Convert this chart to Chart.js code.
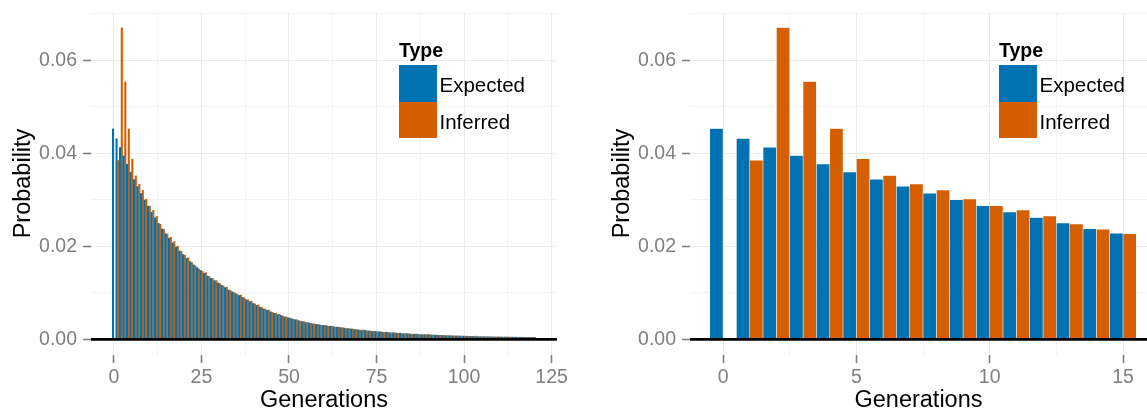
<!DOCTYPE html>
<html>
<head>
<meta charset="utf-8">
<script src="https://cdn.jsdelivr.net/npm/chart.js@4.4.1/dist/chart.umd.min.js"></script>
<style>
    body { margin: 0; background: #fff; }
    #wrap { position: relative; width: 1147px; height: 412px; overflow: hidden; font-family: "Liberation Sans", Arial, sans-serif; }
    canvas { position: absolute; top: 0; }
    .ltitle { position: absolute; font-weight: bold; font-size: 19.5px; line-height: 20px; color: #000; }
    .lbox { position: absolute; width: 38px; height: 36.5px; }
    .llabel { position: absolute; font-size: 20.5px; line-height: 20px; color: #000; }
</style>
</head>
<body>
<div id="wrap">
    <canvas id="left" width="573" height="412" style="left:0"></canvas>
    <canvas id="right" width="573" height="412" style="left:574px"></canvas>
</div>
<script>
// generations 0..120 (histogram bins)
const generations = Array.from({ length: 121 }, (_, i) => i);

const expected = [
    0.0453, 0.0432, 0.0413, 0.0395, 0.0377, 0.0360, 0.0344, 0.0329, 0.0314, 0.0300,
    0.0287, 0.0274, 0.0262, 0.0250, 0.0238, 0.0228, 0.0218, 0.0208, 0.0199, 0.0191,
    0.0183, 0.0175, 0.0168, 0.0161, 0.0155, 0.0149, 0.0143, 0.0137, 0.0132, 0.0127,
    0.0122, 0.0117, 0.0112, 0.0107, 0.0103, 0.0099, 0.0095, 0.0091, 0.0086, 0.0082,
    0.0078, 0.0074, 0.0070, 0.0066, 0.0063, 0.0060, 0.0057, 0.0054, 0.0052, 0.0049,
    0.0047, 0.0045, 0.0043, 0.0041, 0.0039, 0.0037, 0.0036, 0.0034, 0.0033, 0.0032,
    0.0031, 0.0030, 0.0029, 0.0028, 0.0027, 0.0026, 0.0025, 0.0024, 0.0023, 0.0022,
    0.0021, 0.0020, 0.0020, 0.0019, 0.0018, 0.0018, 0.0017, 0.0016, 0.0016, 0.0015,
    0.0015, 0.0014, 0.0014, 0.0013, 0.0013, 0.0012, 0.0012, 0.0012, 0.0011, 0.0011,
    0.0011, 0.0010, 0.0010, 0.00095, 0.00093, 0.00090, 0.00088, 0.00085, 0.00082, 0.00080,
    0.00078, 0.00075, 0.00072, 0.00070, 0.00068, 0.00066, 0.00065, 0.00064, 0.00062, 0.00061,
    0.00060, 0.00059, 0.00058, 0.00057, 0.00056, 0.00055, 0.00054, 0.00053, 0.00052, 0.00051,
    0.00050
];

const inferred = [
    0.0003, 0.0385, 0.0670, 0.0554, 0.0453, 0.0388, 0.0352, 0.0334, 0.0321, 0.0302,
    0.0287, 0.0278, 0.0265, 0.0248, 0.0237, 0.0227, 0.0220, 0.0211, 0.0201, 0.0190,
    0.0182, 0.0176, 0.0166, 0.0159, 0.0152, 0.0147, 0.0144, 0.0136, 0.0131, 0.0127,
    0.0121, 0.0116, 0.0113, 0.0106, 0.0102, 0.0098, 0.0096, 0.0090, 0.0086, 0.0083,
    0.0077, 0.0075, 0.0069, 0.0066, 0.0064, 0.0059, 0.0057, 0.0055, 0.0051, 0.0049,
    0.0047, 0.0044, 0.0043, 0.0040, 0.0039, 0.0037, 0.0035, 0.0034, 0.0033, 0.0031,
    0.0031, 0.0029, 0.0029, 0.0027, 0.0027, 0.0026, 0.0024, 0.0024, 0.0023, 0.0022,
    0.0021, 0.0021, 0.0019, 0.0019, 0.0018, 0.0017, 0.0017, 0.0016, 0.0016, 0.0015,
    0.0015, 0.0014, 0.0013, 0.0013, 0.0013, 0.0012, 0.0012, 0.0011, 0.0011, 0.0011,
    0.0011, 0.0010, 0.00098, 0.00094, 0.00092, 0.00090, 0.00086, 0.00085, 0.00081, 0.00080,
    0.00077, 0.00075, 0.00073, 0.00078, 0.00067, 0.00066, 0.00064, 0.00064, 0.00061, 0.00061,
    0.00060, 0.00058, 0.00058, 0.00057, 0.00055, 0.00055, 0.00054, 0.00052, 0.00052, 0.00051,
    0.00050
];

const seriesNames = ['Expected', 'Inferred'];
const seriesColors = ['#0072B2', '#D55E00'];
const legendTitle = 'Type';

const yTicks = [0, 0.01, 0.02, 0.03, 0.04, 0.05, 0.06, 0.07];
const leftXTicks = [0, 12.5, 25, 37.5, 50, 62.5, 75, 87.5, 100, 112.5, 125];
const rightXTicks = [0, 2.5, 5, 7.5, 10, 12.5, 15];
const zoomMax = 15;

const TICK_GREY = '#7f7f7f';
const FONT = '"Liberation Sans", Arial, sans-serif';

// black hline at y = 0, drawn over the bars
const zeroLine = {
    id: 'zeroLine',
    afterDatasetsDraw(chart) {
        const { ctx, chartArea } = chart;
        const y = chart.scales.y.getPixelForValue(0);
        ctx.save();
        ctx.strokeStyle = '#000';
        ctx.lineWidth = 2.8;
        ctx.beginPath();
        ctx.moveTo(chartArea.left, y);
        ctx.lineTo(chartArea.right, y);
        ctx.stroke();
        ctx.restore();
    }
};

function isMajorY(v) {
    return Math.round(v * 100) % 2 === 0;
}

function tickVal(c) {
    return c && c.tick ? c.tick.value : 0;
}

function makeDatasets(maxGen, opts) {
    const gens = generations.filter(g => g <= maxGen);
    return [expected, inferred].map((vals, k) => ({
        label: seriesNames[k],
        data: gens.map(g => ({ x: g, y: vals[g] })),
        backgroundColor: seriesColors[k],
        borderColor: opts.border ? 'rgba(255,255,255,0.45)' : seriesColors[k],
        borderWidth: opts.border ? 0.6 : 0,
        categoryPercentage: 1.0,
        barPercentage: opts.barPct,
    }));
}

function makeChart(canvasId, opts) {
    const xMajor = v => Math.abs(v - Math.round(v)) < 1e-6 && (Math.round(v) % opts.xStep === 0);
    return new Chart(document.getElementById(canvasId), {
        type: 'bar',
        data: { datasets: makeDatasets(opts.maxGen, opts) },
        plugins: [zeroLine],
        options: {
            responsive: false,
            animation: false,
            devicePixelRatio: 1,
            layout: { padding: { left: opts.padLeft, right: opts.padRight, top: 12, bottom: 0 } },
            plugins: { legend: { display: false }, tooltip: { enabled: false } },
            scales: {
                x: {
                    type: 'linear',
                    min: opts.xMin,
                    max: opts.xMax,
                    offset: false,
                    afterBuildTicks: s => { s.ticks = opts.xTicks.map(v => ({ value: v })); },
                    afterFit: s => { s.height = 57; s.paddingLeft = 0; s.paddingRight = 0; },
                    border: { display: false },
                    grid: {
                        offset: false,
                        color: c => xMajor(tickVal(c)) ? '#ebebeb' : '#f3f3f3',
                        lineWidth: 1,
                        tickLength: 8,
                        tickWidth: 1.6,
                        tickColor: c => xMajor(tickVal(c)) ? TICK_GREY : 'rgba(0,0,0,0)',
                    },
                    ticks: {
                        autoSkip: false,
                        maxRotation: 0,
                        padding: 3,
                        color: TICK_GREY,
                        font: { family: FONT, size: 19.5 },
                        callback: v => xMajor(v) ? String(v) : '',
                    },
                    title: {
                        display: true,
                        text: 'Generations',
                        color: '#000',
                        font: { family: FONT, size: 23.5, lineHeight: 1 },
                        padding: { top: 0, bottom: 0 },
                    },
                },
                y: {
                    min: -0.00335,
                    max: 0.07035,
                    afterBuildTicks: s => { s.ticks = yTicks.map(v => ({ value: v })); },
                    afterFit: s => { s.width = 91; s.paddingTop = 0; s.paddingBottom = 0; },
                    border: { display: false },
                    grid: {
                        color: c => isMajorY(tickVal(c)) ? '#ebebeb' : '#f3f3f3',
                        lineWidth: 1,
                        tickLength: 8,
                        tickWidth: 1.6,
                        tickColor: c => isMajorY(tickVal(c)) ? TICK_GREY : 'rgba(0,0,0,0)',
                    },
                    ticks: {
                        autoSkip: false,
                        padding: 6,
                        color: TICK_GREY,
                        font: { family: FONT, size: 19.5 },
                        callback: v => isMajorY(v) ? v.toFixed(2) : '',
                    },
                    title: {
                        display: true,
                        text: 'Probability',
                        color: '#000',
                        font: { family: FONT, size: 23.5, lineHeight: 1 },
                        padding: { top: 12, bottom: 0 },
                    },
                },
            },
        },
    });
}

// legends placed inside the panels, top right
function addLegend(left) {
    const wrap = document.getElementById('wrap');
    const t = document.createElement('div');
    t.className = 'ltitle';
    t.style.left = left + 'px';
    t.style.top = '40px';
    t.textContent = legendTitle;
    wrap.appendChild(t);
    seriesNames.forEach((name, k) => {
        const box = document.createElement('div');
        box.className = 'lbox';
        box.style.left = left + 'px';
        box.style.top = (65 + k * 36.5) + 'px';
        box.style.background = seriesColors[k];
        wrap.appendChild(box);
        const lab = document.createElement('div');
        lab.className = 'llabel';
        lab.style.left = (left + 40.5) + 'px';
        lab.style.top = (75 + k * 36.5) + 'px';
        lab.textContent = name;
        wrap.appendChild(lab);
    });
}

addLegend(399);
addLegend(999);

makeChart('left', {
    maxGen: 120, xMin: -6.55, xMax: 126.55, xTicks: leftXTicks, xStep: 25,
    padLeft: 0, padRight: 16, border: false, barPct: 1.2,
});

makeChart('right', {
    maxGen: zoomMax, xMin: -1.24, xMax: 15.9, xTicks: rightXTicks, xStep: 5,
    padLeft: 25, padRight: 0, border: true, barPct: 1.0,
});
</script>
</body>
</html>
